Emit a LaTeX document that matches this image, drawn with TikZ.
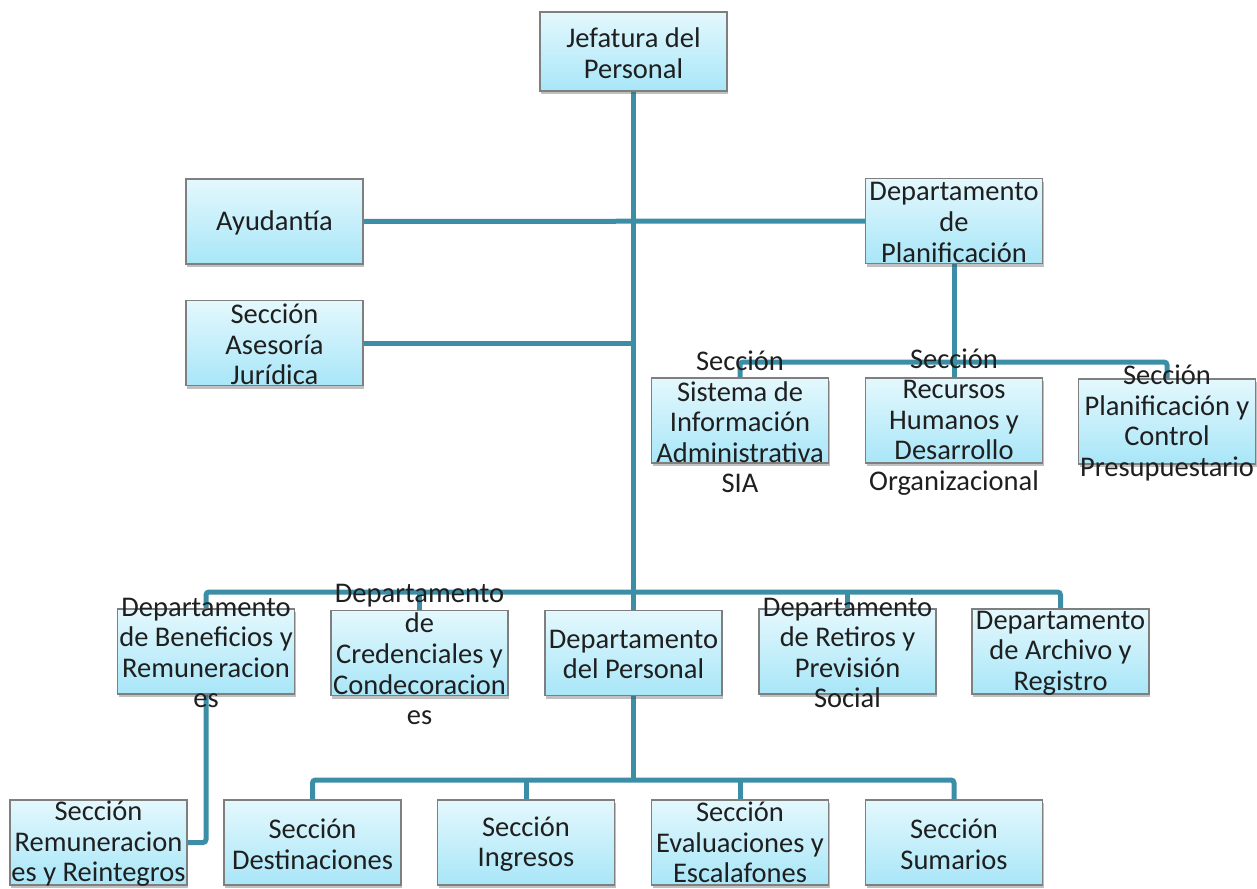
\documentclass[tikz,border=0pt]{standalone}
\usepackage{fontspec}
\setmainfont{Carlito}
\usetikzlibrary{shadows}
\definecolor{conncol}{HTML}{3B8EA6}
\definecolor{boxtop}{HTML}{E4F8FD}
\definecolor{boxbot}{HTML}{A8E6F8}
\definecolor{boxline}{HTML}{7F7F7F}
\definecolor{txtcol}{HTML}{1F1F1F}
\pgfdeclarelayer{paper}
\pgfdeclarelayer{bg}
\pgfsetlayers{paper,bg,main}
\tikzset{
  orgbox/.style={draw=boxline, line width=1.2pt, top color=boxtop, bottom color=boxbot,
    minimum width=177pt, minimum height=85pt, inner sep=0pt,
    drop shadow={opacity=0.35, shadow xshift=1pt, shadow yshift=-3pt, fill=black!70}},
  txt/.style={align=center, text=txtcol, inner sep=0pt, yshift=-1.5pt, font=\fontsize{28.5}{30.6}\selectfont},
  conn/.style={draw=conncol, line width=5pt, rounded corners=3pt},
}
\newcommand{\orgnode}[4][]{%
  \node[orgbox,#1,label={[txt]center:{#4}}] (#2) at (#3) {};}
\begin{document}
\begin{tikzpicture}[x=1pt,y=-1pt]
\useasboundingbox (0,0) rectangle (1257,888);
\begin{pgfonlayer}{paper}
\fill[white] (0,0) rectangle (1257,888);
\end{pgfonlayer}
\orgnode[minimum width=187pt, minimum height=79pt]{jef}{633.5,51.5}{Jefatura del\\Personal}
\orgnode{ayu}{274.5,221.5}{Ayudantía}
\orgnode{plan}{954,221}{Departamento\\de\\Planificación}
\orgnode{ases}{274.5,343}{Sección\\Asesoría\\Jurídica}
\orgnode{sia}{740,420.5}{Sección\\Sistema de\\Información\\Administrativa\\SIA}
\orgnode{rrhh}{954,420.5}{Sección\\Recursos\\Humanos y\\Desarrollo\\Organizacional}
\orgnode{pc}{1167,421.5}{Sección\\Planificación y\\Control\\Presupuestario}
\orgnode{ben}{206,651.5}{Departamento\\de Beneficios y\\Remuneracion\\es}
\orgnode{cred}{419.5,653}{Departamento\\de\\Credenciales y\\Condecoracion\\es}
\orgnode{pers}{633.5,653}{Departamento\\del Personal}
\orgnode{ret}{847.5,651.5}{Departamento\\de Retiros y\\Previsión\\Social}
\orgnode{arch}{1060.5,651.5}{Departamento\\de Archivo y\\Registro}
\orgnode{rem}{98.5,842.5}{Sección\\Remuneracion\\es y Reintegros}
\orgnode{dest}{312.5,842.5}{Sección\\Destinaciones}
\orgnode{ing}{526,842.5}{Sección\\Ingresos}
\node[orgbox,label={[txt,yshift=1.5pt]center:{Sección\\Evaluaciones y\\Escalafones}}] (ev) at (740,842.5) {};
\orgnode{sum}{954,842.5}{Sección\\Sumarios}
\coordinate (pbus) at (954,362);
\coordinate (bus) at (633.5,592);
\coordinate (bus2) at (633.5,780);
\begin{pgfonlayer}{bg}
\draw[conn] (jef.south) -- (pers.north);
\draw[conn] (ayu.east) -- (plan.west);
\draw[conn] (ases.east) -- (ases.east -| jef.south);
\draw[conn] (plan.south) -- (rrhh.north);
\draw[conn] (sia.north) -- (sia.north |- pbus) -- (pc.north |- pbus) -- (pc.north);
\draw[conn] (ben.north) -- (ben.north |- bus) -- (arch.north |- bus) -- (arch.north);
\draw[conn] (cred.north) -- (cred.north |- bus);
\draw[conn] (ret.north) -- (ret.north |- bus);
\draw[conn] (pers.south) -- (bus2);
\draw[conn] (dest.north) -- (dest.north |- bus2) -- (sum.north |- bus2) -- (sum.north);
\draw[conn] (ing.north) -- (ing.north |- bus2);
\draw[conn] (ev.north) -- (ev.north |- bus2);
\draw[conn] (ben.south) |- (rem.east);
\end{pgfonlayer}
\end{tikzpicture}
\end{document}
